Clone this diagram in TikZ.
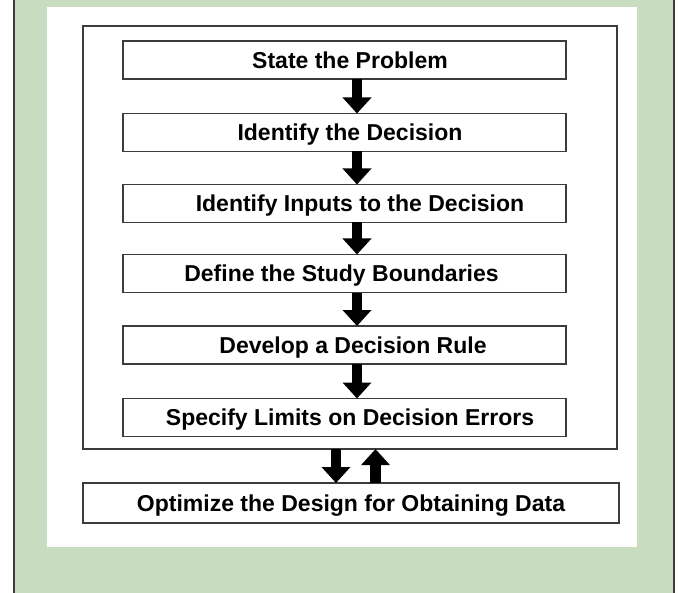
\documentclass[tikz,border=0pt]{standalone}
\usepackage{fontspec}
\setmainfont{Liberation Sans}
\usetikzlibrary{arrows.meta}
\definecolor{panelgreen}{RGB}{200,220,192}
\definecolor{edgegray}{RGB}{60,60,60}
\tikzset{
  stepbox/.style={draw=edgegray, line width=1.6pt, fill=white, minimum width=443pt, minimum height=38pt, inner sep=0pt,
    text depth=0pt, font=\fontsize{23}{26}\selectfont\bfseries},
  blockarrow/.style={line width=10.5pt, -{Triangle[width=28pt,length=16pt]}, black, shorten <=-0.8pt, shorten >=-0.8pt},
}
\begin{document}
\begin{tikzpicture}[x=1pt,y=-1pt]
\useasboundingbox (0,0) rectangle (679,593);
\fill[white] (0,0) rectangle (679,593);
\fill[panelgreen] (14,0) rectangle (674,593);
\draw[edgegray, line width=1.5pt] (14,0) -- (14,593);
\draw[edgegray, line width=1.5pt] (674,0) -- (674,593);
\fill[white] (47,7) rectangle (637,547);
\node[draw=edgegray, line width=1.8pt, minimum width=534pt, minimum height=423pt, inner sep=0pt] (outer) at (350,237.5) {};
\node[stepbox] (s1) at (344.5,60) {\hspace*{11pt}State the Problem};
\node[stepbox] (s2) at (344.5,132.5) {\hspace*{11pt}Identify the Decision};
\node[stepbox] (s3) at (344.5,203.5) {\hspace*{31pt}Identify Inputs to the Decision};
\node[stepbox] (s4) at (344.5,273.5) {\hspace*{-6pt}Define the Study Boundaries};
\node[stepbox] (s5) at (344.5,345) {\hspace*{17pt}Develop a Decision Rule};
\node[stepbox] (s6) at (344.5,417.5) {\hspace*{11pt}Specify Limits on Decision Errors};
\node[stepbox, minimum width=536pt, minimum height=40pt] (opt) at (351,503) {Optimize the Design for Obtaining Data};
\foreach \a/\b in {s1/s2,s2/s3,s3/s4,s4/s5,s5/s6}
  \draw[blockarrow] ([xshift=12.5pt]\a.south) -- ([xshift=12.5pt]\b.north);
\draw[blockarrow] ([xshift=-14pt]outer.south) -- ([xshift=-15pt]opt.north);
\draw[blockarrow] ([xshift=24.5pt]opt.north) -- ([xshift=25.5pt]outer.south);
\end{tikzpicture}
\end{document}
